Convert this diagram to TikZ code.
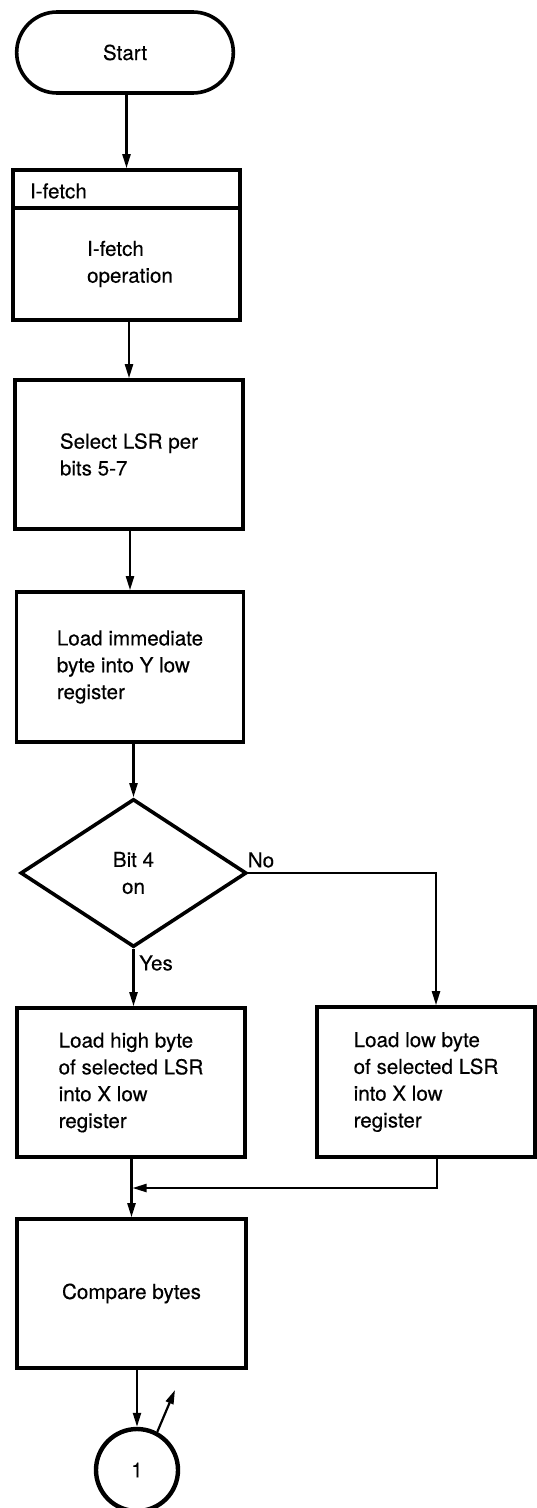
\documentclass[tikz,border=0pt]{standalone}
\usepackage{fontspec}
\setmainfont[FakeBold=0.3]{TeX Gyre Heros}
\usepackage{tikz}
\usetikzlibrary{shapes.geometric,shapes.misc,arrows.meta}

\begin{document}
\begin{tikzpicture}[x=0.5pt,y=-0.5pt,
    font=\fontsize{10.3}{13.4}\selectfont,
    box/.style={draw, line width=1.8pt, align=left, inner sep=0pt, minimum height=75pt},
    flow/.style={line width=1.1pt, -{Triangle[length=7pt,width=4pt]}}]
    \useasboundingbox (0,0) rectangle (536,1508) ;

    % main column
    \node[draw, line width=1.8pt, rounded rectangle, minimum width=115pt, minimum height=40.5pt] at (125,52.5) (start) {Start} ;
    \node[box, minimum width=113.5pt] at (126.5,245) (ifetch) {} ;
    \draw[line width=1.8pt] ([yshift=-20pt]ifetch.north west) -- ([yshift=-20pt]ifetch.north east) ;
    \node[anchor=west] at (23,191) (ifetchhdr) {I-fetch} ;
    \node[align=left] at (130,264) (ifetchop) {I-fetch\\operation} ;
    \node[box, minimum width=114pt, minimum height=74.5pt] at (129,454.5) (sel) {Select LSR per\\bits 5-7} ;
    \node[box, minimum width=113.5pt] at (130,667) (loadimm) {Load immediate\\byte into Y low\\register} ;
    \node[draw, diamond, line width=1.8pt, aspect=1.5, inner sep=0pt, minimum width=113pt, minimum height=74pt, align=center] at (133.5,873) (bit4) {Bit 4\\on} ;
    \node at (261,860) (nolbl) {No} ;
    \node at (156,963) (yeslbl) {Yes} ;

    % the two branches
    \node[box, minimum width=114pt, minimum height=74.5pt] at (131,1082.5) (highbox) {Load high byte\\of selected LSR\\into X low\\register} ;
    \node[box, minimum width=109pt] at (426,1082) (lowbox) {Load low byte\\of selected LSR\\into X low\\register} ;

    \node[box, minimum width=114.5pt, minimum height=74.5pt] at (131.5,1293.5) (compare) {Compare bytes} ;
    \node[draw, circle, line width=2.2pt, minimum size=41pt, inner sep=0pt] at (137,1470) (conn1) {1} ;

    \coordinate (nocorner) at (436,873) ;
    \coordinate (mergecorner) at (437,1188) ;
    \coordinate (exit) at (175,1390) ;

    % connectors
    \draw[flow] (start.south -| ifetch) -- (ifetch) ;
    \draw[flow] (ifetch.south -| sel) -- (sel) ;
    \draw[flow] (sel.south -| loadimm) -- (loadimm) ;
    \draw[flow] (loadimm.south -| bit4) -- (bit4) ;
    \draw[flow] (bit4.south) -- (bit4.south |- highbox.north) ;
    \draw[flow] (bit4.east) -- (nocorner) -- (nocorner |- lowbox.north) ;
    \draw[flow] (highbox.south -| compare) -- (compare) ;
    \draw[flow, shorten >=0.5pt] (mergecorner |- lowbox.south) -- (mergecorner) -- (compare.north |- mergecorner) ;
    \draw[flow] (compare.south -| conn1) -- (conn1) ;
    \draw[flow] (conn1.62) -- (exit) ;
\end{tikzpicture}
\end{document}
